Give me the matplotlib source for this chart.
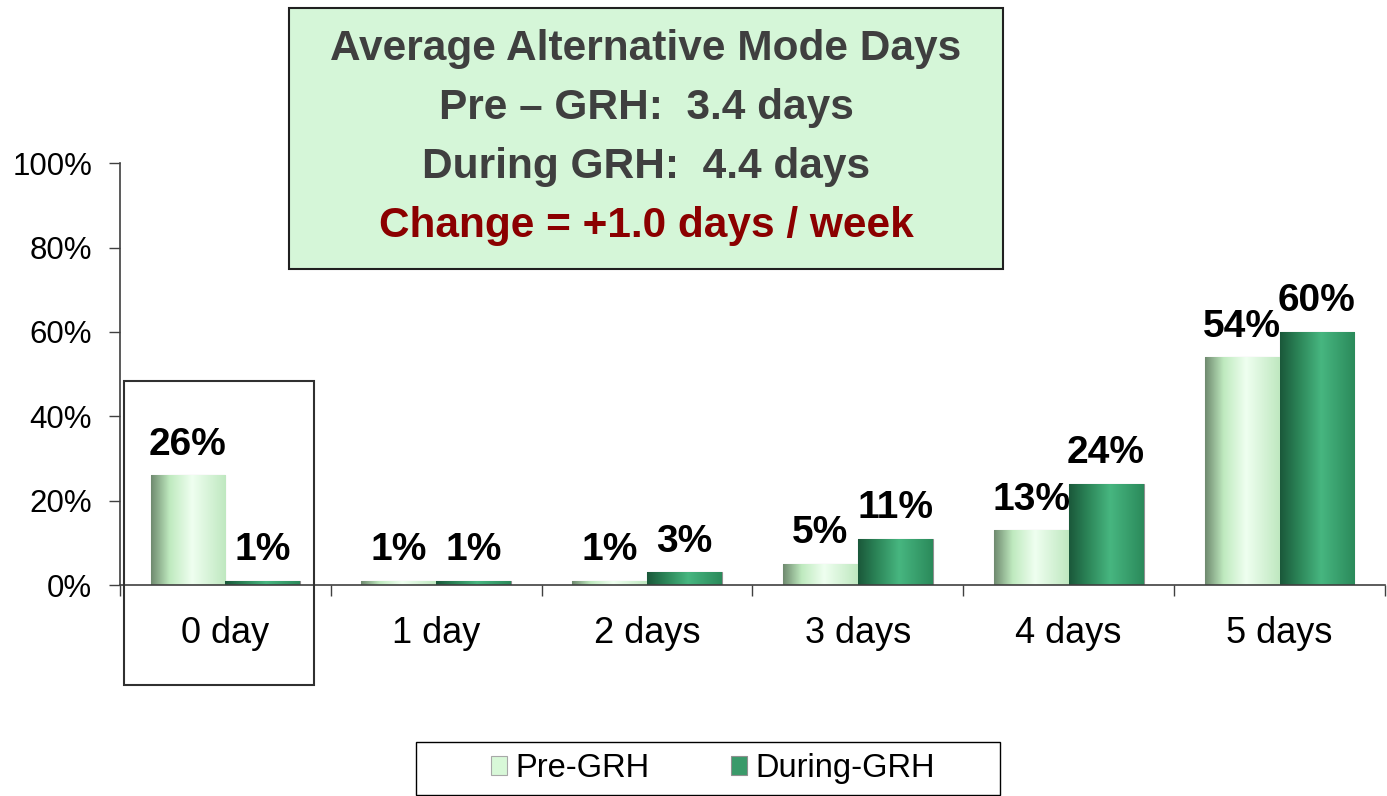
import numpy as np
import matplotlib.pyplot as plt
from matplotlib.colors import LinearSegmentedColormap
from matplotlib.patches import Rectangle

plt.rcParams['font.family'] = ['Liberation Sans', 'DejaVu Sans']

# data
categories = ['0 day', '1 day', '2 days', '3 days', '4 days', '5 days']
pre_grh = [26, 1, 1, 5, 13, 54]
during_grh = [1, 1, 3, 11, 24, 60]
pre_shown = [26, 1, 1, 5, 13, 54]
during_shown = [1, 1, 3, 11, 24, 60]

box_lines = ['Average Alternative Mode Days',
             'Pre \u2013 GRH:  3.4 days',
             'During GRH:  4.4 days',
             'Change = +1.0 days / week']

pre_cmap = LinearSegmentedColormap.from_list(
    'pre', [(0, '#6f8a6f'), (0.25, '#bfeabf'), (0.55, '#effff0'), (1, '#bfe8c0')])
dur_cmap = LinearSegmentedColormap.from_list(
    'dur', [(0, '#1a583a'), (0.25, '#2c8558'), (0.55, '#47b680'), (1, '#2b8a5b')])

fig = plt.figure(figsize=(13.87, 7.96), dpi=100)
ax = fig.add_axes([0.0865, 0.265, 0.912, 0.530])

x = np.arange(len(categories))
w = 0.355
bars_pre = ax.bar(x - w / 2, np.array(pre_grh) / 100, w, color='#d8f8d8',
                  edgecolor='#a8a8a8', linewidth=0.8, label='Pre-GRH', zorder=2)
bars_dur = ax.bar(x + w / 2, np.array(during_grh) / 100, w, color='#3a9a6a',
                  edgecolor='#909090', linewidth=0.8, label='During-GRH', zorder=2)

# horizontal shading on every bar
grad = np.linspace(0, 1, 256).reshape(1, -1)
for bars, cm in ((bars_pre, pre_cmap), (bars_dur, dur_cmap)):
    for b in bars:
        x0, y0 = b.get_x(), b.get_y()
        im = ax.imshow(grad, cmap=cm, aspect='auto', zorder=2.5,
                       extent=[x0, x0 + b.get_width(), y0, y0 + b.get_height()])
        im.set_clip_path(b)

# labels above bars
for bars, vals in ((bars_pre, pre_shown), (bars_dur, during_shown)):
    for b, v in zip(bars, vals):
        ax.annotate('%d%%' % v, (b.get_x() + b.get_width() / 2, b.get_height()),
                    xytext=(0, 9), textcoords='offset points', ha='center', va='bottom',
                    fontsize=28, fontweight='bold', color='black', zorder=4)

ax.set_xlim(-0.5, len(categories) - 0.5)
ax.set_ylim(0, 1)
ax.set_yticks(np.arange(0, 1.01, 0.2))
ax.set_yticklabels(['%d%%' % (v * 100) for v in np.arange(0, 1.01, 0.2)])
ax.set_xticks(x)
ax.set_xticklabels(categories)
ax.set_xticks(np.arange(-0.5, len(categories)), minor=True)
ax.tick_params(axis='x', which='major', length=0, pad=22, labelsize=26)
ax.tick_params(axis='x', which='minor', length=8, width=1, color='#404040', direction='out')
ax.tick_params(axis='y', length=8, width=1, color='#404040', pad=12, labelsize=22.5)
for s in ('top', 'right'):
    ax.spines[s].set_visible(False)
for s in ('left', 'bottom'):
    ax.spines[s].set_color('#404040')
    ax.spines[s].set_linewidth(1.2)

# box around the 0 day group
ax.add_patch(Rectangle((-0.481, -0.237), 0.9, 0.72, fill=False, edgecolor='#303030',
                       linewidth=1.5, clip_on=False, zorder=5))

# summary box
fig.patches.append(Rectangle((0.2084, 0.662), 0.5148, 0.328, transform=fig.transFigure,
                             facecolor='#d5f6d8', edgecolor='#202020', linewidth=1.5))
ys = [0.938, 0.864, 0.790, 0.716]
colors = ['#3f3f3f', '#3f3f3f', '#3f3f3f', '#8b0000']
for t, yy, c in zip(box_lines, ys, colors):
    fig.text(0.4658, yy, t, ha='center', va='center', fontsize=30.5,
             fontweight='bold', color=c)

# legend
fig.patches.append(Rectangle((0.300, 0.001), 0.421, 0.067, transform=fig.transFigure,
                             facecolor='white', edgecolor='black', linewidth=1))
leg = fig.legend(handles=[bars_pre, bars_dur], labels=['Pre-GRH', 'During-GRH'],
                 loc='center', bbox_to_anchor=(0.514, 0.0345), ncol=2, frameon=False,
                 fontsize=23.5, handlelength=0.5, handleheight=0.5, handletextpad=0.25,
                 columnspacing=2.5)

fig.savefig('out.png', dpi=100)
